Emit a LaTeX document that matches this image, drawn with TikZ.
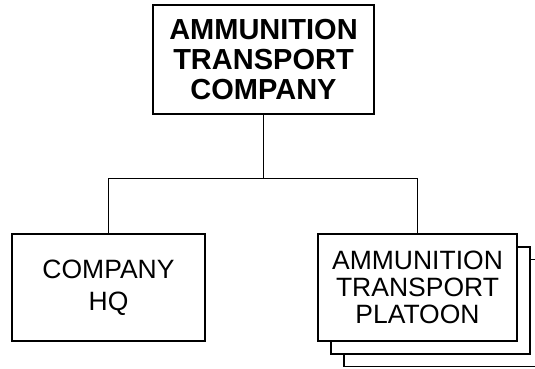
\documentclass[tikz,border=0pt]{standalone}
\usepackage{fontspec}
\setmainfont{Liberation Sans}
\begin{document}
\begin{tikzpicture}[x=1pt,y=-1pt,
  box/.style={draw=black,line width=1.1pt,fill=white,inner sep=0pt,align=center,text=black},
  link/.style={draw=black,line width=1.1pt}]
\useasboundingbox (0,0) rectangle (535,369);
\node[box,minimum width=221pt,minimum height=109pt,font=\bfseries\fontsize{29}{30}\selectfont] (top) at (263.5,59.5) {AMMUNITION\\TRANSPORT\\COMPANY};
\node[box,minimum width=193pt,minimum height=107pt,font=\fontsize{26.5}{32.5}\selectfont] (hq) at (108.5,287.5) {COMPANY\\HQ};
\node[box,minimum width=199pt,minimum height=107pt] (plt3) at (443.5,313) {};
\node[box,minimum width=199pt,minimum height=107pt] (plt2) at (430.5,300.5) {};
\node[box,minimum width=199pt,minimum height=107pt,font=\fontsize{26.5}{26.7}\selectfont] (plt) at (417.5,287.5) {AMMUNITION\\TRANSPORT\\PLATOON};
\coordinate (j) at (top.south |- 0,179);
\draw[link] (top.south) -- (j);
\draw[link] (hq.north) -- ++(0,-55) -| (plt.north);
\end{tikzpicture}
\end{document}
